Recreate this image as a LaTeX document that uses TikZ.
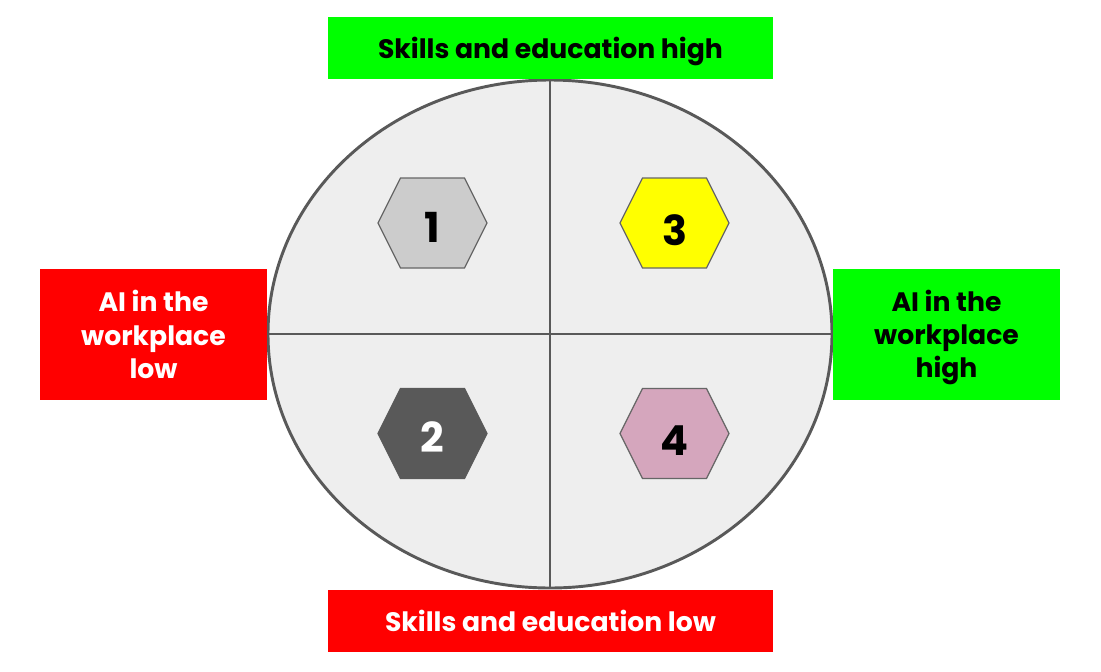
\documentclass[tikz,border=0pt]{standalone}
\usepackage{fontspec}
\setmainfont{Poppins}
\usetikzlibrary{calc}
\definecolor{boxgreen}{HTML}{00FF00}
\definecolor{boxred}{HTML}{FF0000}
\definecolor{discfill}{HTML}{EEEEEE}
\definecolor{discline}{HTML}{595959}
\definecolor{hexgrey}{HTML}{CCCCCC}
\definecolor{hexedge}{HTML}{666666}
\definecolor{hexdark}{HTML}{595959}
\definecolor{hexyellow}{HTML}{FFFF00}
\definecolor{hexpink}{HTML}{D5A6BD}
\tikzset{
  label box/.style={rectangle, inner sep=0pt, align=center,
    font=\fontsize{20}{25}\selectfont\bfseries},
  wide box/.style={label box, minimum width=333.75pt, minimum height=46.5pt},
  side box/.style={label box, minimum width=170.25pt, minimum height=98.25pt},
  label text/.style={inner sep=0pt, align=center,
    font=\fontsize{20}{25}\selectfont\bfseries},
  hexshape/.style={draw=hexedge, line width=0.9pt},
  hexnum/.style={inner sep=0pt, font=\fontsize{31}{31}\selectfont\bfseries},
  divider/.style={draw=discline, line width=2.2pt}
}
% flat-topped hexagon centred at #1, extra options #3
\newcommand{\hexagonat}[3]{%
  \path[hexshape,#3] ($(#1)+(-54.5,0)$) -- ($(#1)+(-32,-45)$) -- ($(#1)+(32,-45)$)
    -- ($(#1)+(54.5,0)$) -- ($(#1)+(32,45)$) -- ($(#1)+(-32,45)$) -- cycle;}
\begin{document}
\begin{tikzpicture}[x=0.75pt,y=-0.75pt]
\useasboundingbox (0,0) rectangle (1101,672);
\fill[white] (0,0) rectangle (1101,672);

% central disc split into quadrants
\coordinate (c) at (550,334);
\draw[divider, fill=discfill] (c) ellipse [x radius=282, y radius=254];
\coordinate (ctop) at (550,80);
\coordinate (cbot) at (550,588);
\coordinate (cleft) at (268,334);
\coordinate (cright) at (832,334);
\draw[divider] (ctop) -- (cbot);
\draw[divider] (cleft) -- (cright);

% axis labels: coloured boxes with their text
\node[wide box, fill=boxgreen] (skhigh) at (550.5,48) {};
\node[label text, text=black] (skhightext) at (550.5,51) {Skills and education high};
\node[wide box, fill=boxred] (sklow) at (550.5,621) {};
\node[label text, text=white] (sklowtext) at (550.5,621) {Skills and education low};
\node[side box, fill=boxred] (ailow) at (153.5,334.5) {};
\node[label text, text=white] (ailowtext) at (153.5,334.5) {AI in the\\workplace\\low};
\node[side box, fill=boxgreen] (aihigh) at (946.5,334.5) {};
\node[label text, text=black] (aihightext) at (946.5,337.5) {AI in the\\workplace\\high};

% quadrant markers
\coordinate (h1) at (432.5,223);
\coordinate (h2) at (432.5,433.5);
\coordinate (h3) at (674.5,223);
\coordinate (h4) at (674.5,433.5);
\hexagonat{h1}{}{fill=hexgrey}
\hexagonat{h2}{}{fill=hexdark, draw=hexdark}
\hexagonat{h3}{}{fill=hexyellow}
\hexagonat{h4}{}{fill=hexpink}
\node[hexnum, text=black] (n1) at ($(h1)+(0,4)$) {1};
\node[hexnum, text=white] (n2) at ($(h2)+(0,4)$) {2};
\node[hexnum, text=black] (n3) at ($(h3)+(0,7)$) {3};
\node[hexnum, text=black] (n4) at ($(h4)+(0,7)$) {4};
\end{tikzpicture}
\end{document}
